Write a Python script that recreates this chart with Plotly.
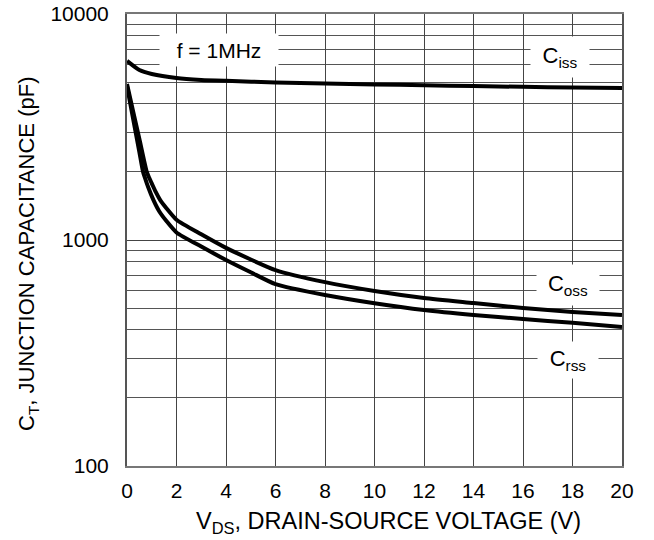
import math
import plotly.graph_objects as go

# Data (VDS in V, capacitance in pF)
vds_ciss = [0, 0.5, 1, 2, 3, 4, 6, 8, 10, 12, 14, 16, 18, 20]
ciss = [6200, 5650, 5430, 5210, 5110, 5060, 4980, 4920, 4880, 4840, 4800, 4760, 4730, 4700]

vds_coss = [0, 0.25, 0.5, 0.8, 0.9, 1.0, 1.15, 1.33, 1.6, 2, 3, 4, 5, 6, 8, 10, 12, 14, 16, 18, 20]
coss = [4900, 3700, 2800, 2000, 1880, 1780, 1640, 1510, 1380, 1230, 1060, 923, 820, 736, 651, 595, 554, 526, 500, 480, 466]

vds_crss = [0, 0.25, 0.5, 0.65, 0.75, 0.85, 1.07, 1.3, 1.6, 2, 3, 4, 5, 6, 8, 10, 12, 14, 16, 18, 20]
crss = [4800, 3430, 2450, 2000, 1850, 1720, 1500, 1340, 1210, 1080, 935, 816, 720, 638, 571, 525, 490, 466, 447, 430, 412]

x_ticks = [0, 2, 4, 6, 8, 10, 12, 14, 16, 18, 20]
y_ticks = [100, 1000, 10000]
y_ticktext = ["100", "1000", "10000"]

# label positions (VDS, pF)
label_text = ["f = 1MHz", "C<sub>iss</sub>", "C<sub>oss</sub>", "C<sub>rss</sub>"]
label_x = [3.7, 17.5, 17.8, 17.8]
label_y = [6930, 6460, 632, 294]

x_title = "V<sub>DS</sub>, DRAIN-SOURCE VOLTAGE (V)"
y_title = "C<sub>T</sub>, JUNCTION CAPACITANCE (pF)"

FONT = "Liberation Sans, Arial, sans-serif"
LINE = dict(color="black", width=4, shape="spline", smoothing=0.6)

fig = go.Figure()
for xs, ys, name in [(vds_ciss, ciss, "Ciss"), (vds_coss, coss, "Coss"), (vds_crss, crss, "Crss")]:
    fig.add_trace(go.Scatter(x=xs, y=ys, mode="lines", line=LINE, name=name,
                             showlegend=False, hoverinfo="skip"))

box_w = [116, 56, 60, 58]
box_h = [30, 38, 38, 34]
font_sz = [21, 22, 22, 22]
for lx, ly, txt, w, h, fs in zip(label_x, label_y, label_text, box_w, box_h, font_sz):
    fig.add_annotation(x=lx, y=math.log10(ly), yref="y", xref="x", text=txt, showarrow=False,
                       bgcolor="white", width=w, height=h,
                       font=dict(family=FONT, size=fs, color="black"))

# axis titles as annotations (offset like the reference)
fig.add_annotation(x=0.529, y=-0.124, xref="paper", yref="paper", text=x_title,
                   showarrow=False, xanchor="center", yanchor="middle",
                   font=dict(family=FONT, size=23.5, color="black"))
fig.add_annotation(x=-0.2, y=0.469, xref="paper", yref="paper", text=y_title,
                   showarrow=False, xanchor="center", yanchor="middle", textangle=-90,
                   font=dict(family=FONT, size=22, color="black"))

fig.update_xaxes(range=[0, 20], tickvals=x_ticks, ticks="", automargin=False,
                 showgrid=True, gridcolor="#444", gridwidth=1,
                 showline=True, linecolor="#777", linewidth=2, mirror=True,
                 zeroline=False, ticklabelstandoff=5,
                 tickfont=dict(family=FONT, size=21, color="black"))
fig.update_yaxes(type="log", range=[2, 4], tickvals=y_ticks, ticktext=y_ticktext, ticks="",
                 automargin=False, ticklabelstandoff=12,
                 showgrid=True, gridcolor="#444", gridwidth=1,
                 minor=dict(dtick="D1", showgrid=True, gridcolor="#555", gridwidth=1, ticks=""),
                 showline=True, linecolor="#555", linewidth=2, mirror=True,
                 tickfont=dict(family=FONT, size=21, color="black"))

fig.update_layout(width=654, height=540, plot_bgcolor="white", paper_bgcolor="white",
                  margin=dict(l=127, r=32, t=14, b=74), showlegend=False, hovermode=False)

fig.write_html("out.html", config={"displayModeBar": False},
               post_script="document.body.style.margin='0';document.body.style.overflow='hidden';")
